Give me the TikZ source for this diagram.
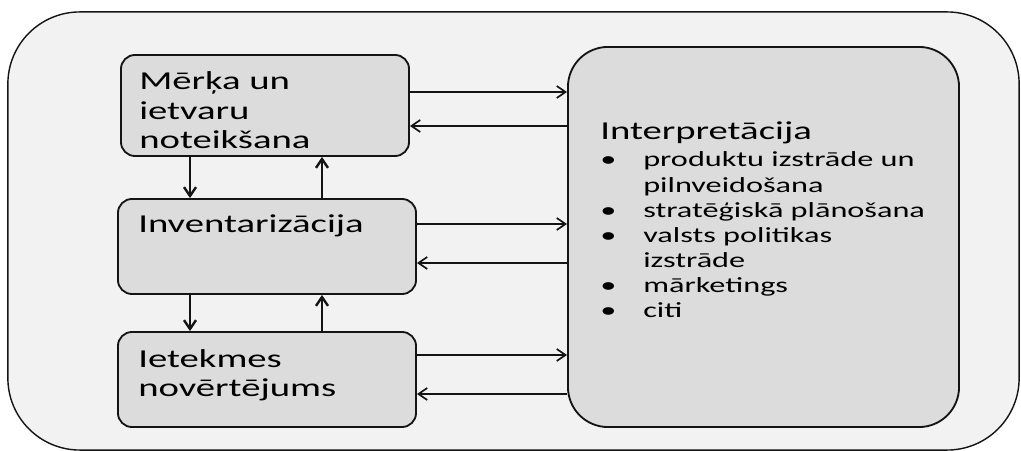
\documentclass[tikz,border=0pt]{standalone}
\usepackage{fontspec}
\setmainfont{Carlito}[FakeStretch=1.5]
\usetikzlibrary{arrows.meta, positioning}
\definecolor{bgGray}  {RGB}{242,242,242}
\definecolor{boxGray} {RGB}{220,220,220}
\definecolor{lnBlack} {RGB}{20,20,20}
\newcommand{\bigtxt}{\fontsize{18.35pt}{21pt}\selectfont}
\newcommand{\smalltxt}{\fontsize{15.3pt}{17.9pt}\selectfont}
\newcommand{\blt}{\makebox[1.075cm][l]{•}}
\newcommand{\ind}{\hspace*{1.075cm}}

\begin{document}
\begin{tikzpicture}[x=0.025cm, y=-0.025cm,
    BOX/.style={draw=lnBlack, line width=1.3pt, fill=boxGray, rounded corners=0.35cm, inner sep=0pt},
    LBL/.style={anchor=base west, align=left, inner sep=0pt, font=\bigtxt},
    ARR/.style={-{Straight Barb[length=2.2mm,width=3mm]}, line width=1.2pt, lnBlack},
    VARR/.style={ARR, line width=1.7pt}]
    \useasboundingbox (0,0) rectangle (1021,451);
    \node[draw=lnBlack, line width=1pt, fill=bgGray, rounded corners=1.8cm, minimum width=25.275cm, minimum height=10.95cm] (frame) at (513.5,231) {};
    % steps on the left, interpretation on the right
    \node[BOX, minimum width=7.2cm, minimum height=2.525cm] (goal) at (265,105.5) {};
    \node[BOX, minimum width=7.45cm, minimum height=2.375cm] (inv) at (267,246.5) {};
    \node[BOX, minimum width=7.45cm, minimum height=2.375cm] (impact) at (267,379.5) {};
    \node[BOX, rounded corners=1cm, minimum width=9.775cm, minimum height=9.5cm] (interp) at (763.5,237) {};
    % base of a multi-line label = its last line
    \node[LBL] (goaltxt) at (139,149) {Mērķa un\\ietvaru\\noteikšana};
    \node[LBL] (invtxt) at (138,233) {Inventarizācija};
    \node[LBL] (impacttxt) at (138,397) {Ietekmes\\novērtējums};
    \node[LBL] (interphead) at (600,140) {Interpretācija};
    \node[LBL, font=\smalltxt] (interplist) at (600,318) {\blt produktu izstrāde un\\\ind pilnveidošana\\\blt stratēģiskā plānošana\\\blt valsts politikas\\\ind izstrāde\\\blt mārketings\\\blt citi};
    % arrows
    \draw[ARR] (goal.east |- 0,92) -- (interp.west |- 0,92);
    \draw[ARR] (interp.west |- 0,126) -- (goal.east |- 0,126);
    \draw[ARR] (inv.east |- 0,224) -- (interp.west |- 0,224);
    \draw[ARR] (interp.west |- 0,263) -- (inv.east |- 0,263);
    \draw[ARR] (impact.east |- 0,355) -- (interp.west |- 0,355);
    \draw[ARR] (interp.west |- 0,394) -- (impact.east |- 0,394);
    \draw[VARR] (goal.south -| 190,0) -- (inv.north -| 190,0);
    \draw[VARR] (inv.north -| 322,0) -- (goal.south -| 322,0);
    \draw[VARR] (inv.south -| 190,0) -- (impact.north -| 190,0);
    \draw[VARR] (impact.north -| 322,0) -- (inv.south -| 322,0);
\end{tikzpicture}
\end{document}
